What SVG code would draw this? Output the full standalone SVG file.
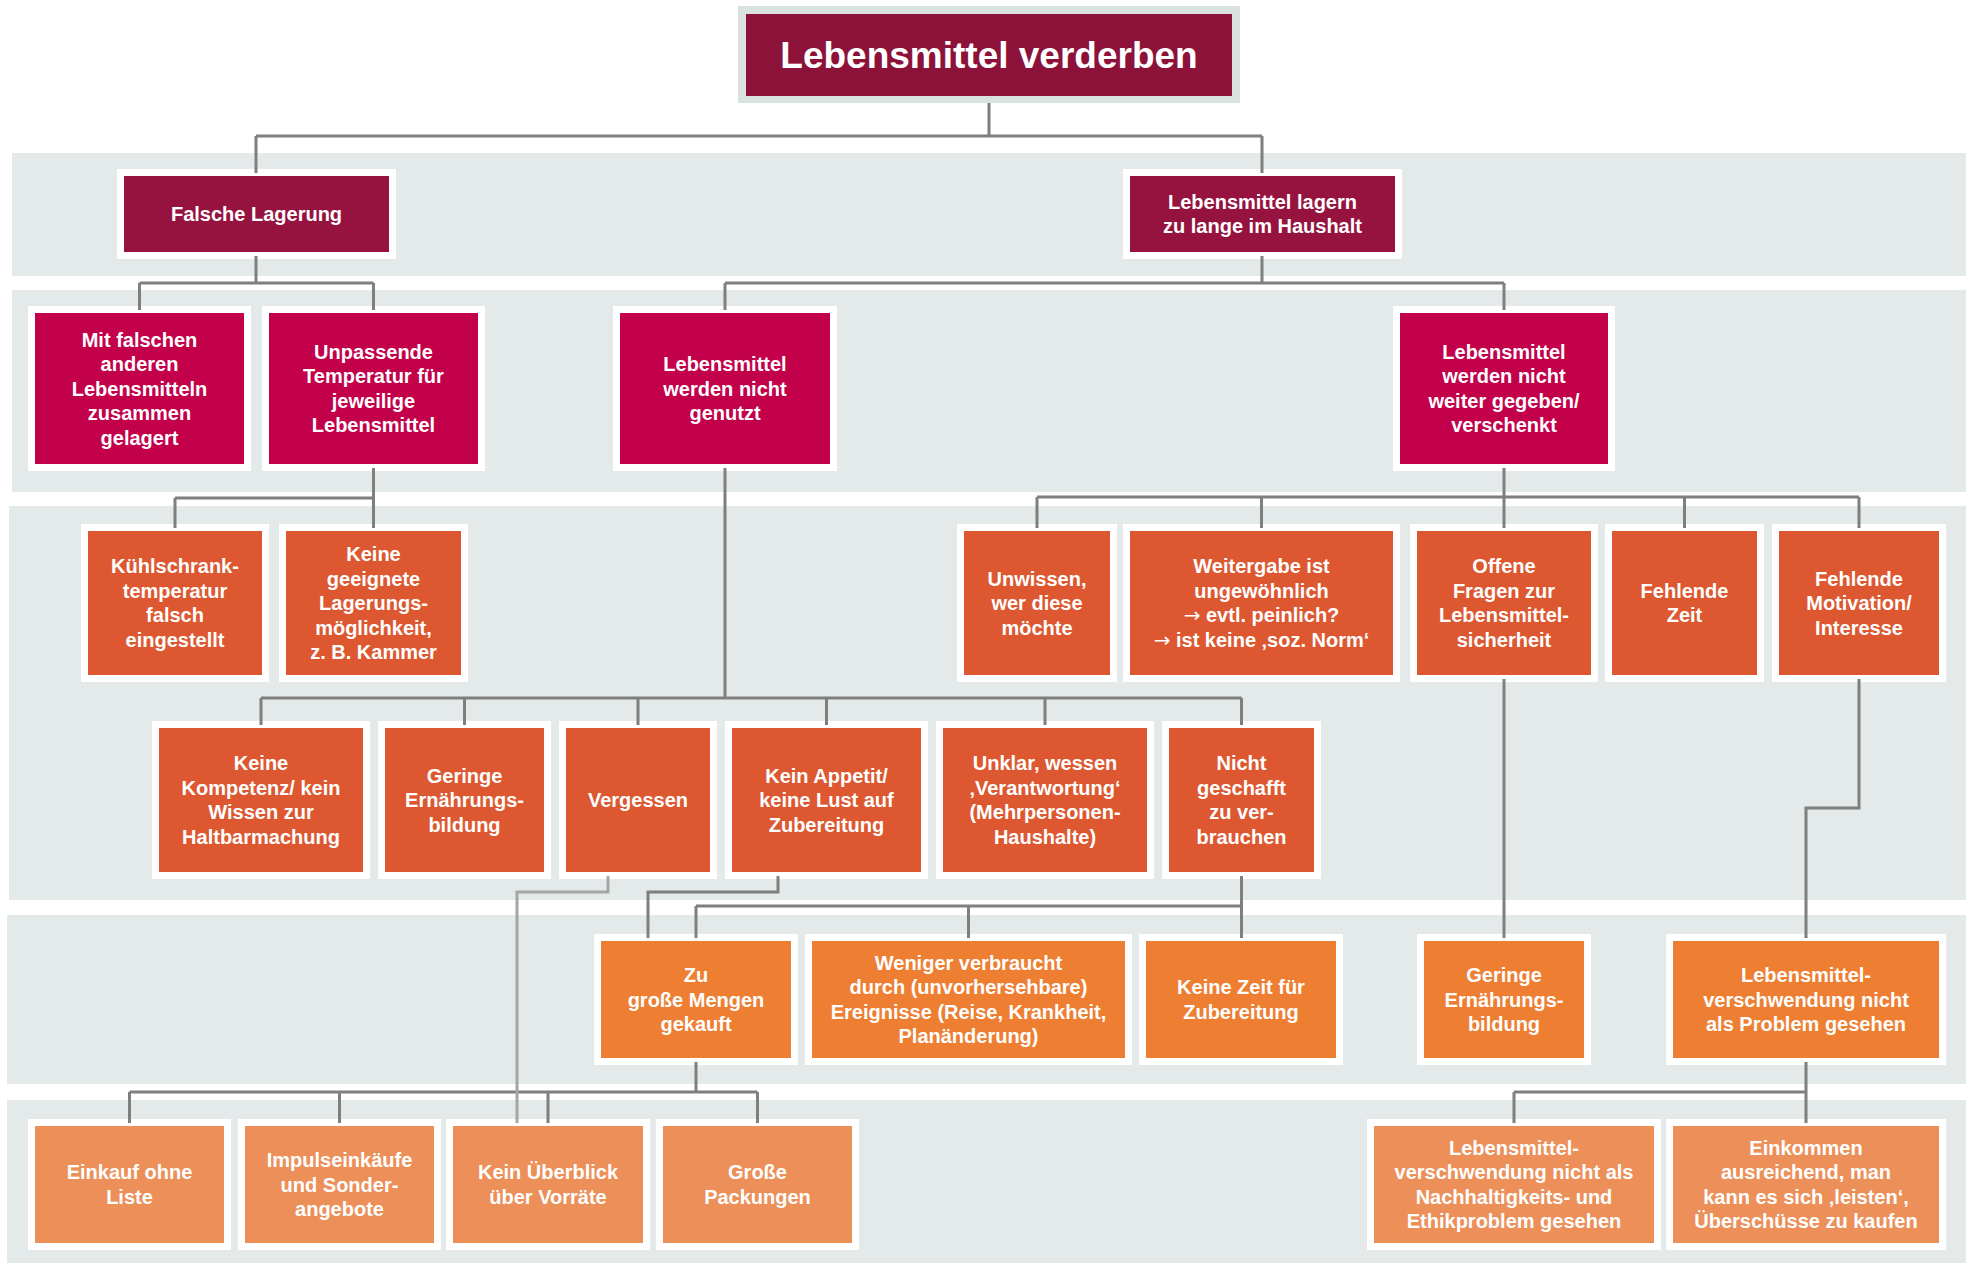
<svg xmlns="http://www.w3.org/2000/svg" width="1968" height="1263" viewBox="0 0 1968 1263">
<style>
.band{fill:#E4EAEA}
.box{stroke:#FFFFFF;stroke-width:7}
.l0{fill:#8C1239}
.l1{fill:#96133F}
.l2{fill:#C3004A}
.l3{fill:#DD5830}
.l5{fill:#EE7E32}
.l6{fill:#EC8F59}
text{font-family:"Liberation Sans",Arial,sans-serif;font-weight:bold;font-size:20px;fill:#FFFFFF;text-anchor:middle}
.ttl{font-size:37px}
.arr{font-family:"DejaVu Sans",sans-serif;font-weight:normal}
.con{fill:none;stroke:#7F7F7F;stroke-width:3}
.con2{fill:none;stroke:#A6A6A6;stroke-width:3}
</style>
<rect width="1968" height="1263" fill="#FFFFFF"/>
<g id="bands">
<rect class="band" x="12" y="153" width="1954" height="123"/>
<rect class="band" x="12" y="290" width="1954" height="202"/>
<rect class="band" x="9" y="506" width="1957" height="394"/>
<rect class="band" x="7" y="915" width="1959" height="169"/>
<rect class="band" x="7" y="1100" width="1959" height="163"/>
</g>
<g id="n-title">
<rect x="738" y="6" width="502" height="97" fill="#D9E1E1"/>
<rect class="l0" x="746" y="14" width="486" height="82"/>
<text class="ttl" x="989" y="68">Lebensmittel verderben</text>
</g>
<g id="n-falsche">
<rect class="box l1" x="120.5" y="172.5" width="272" height="83"/>
<text x="256.5" y="221">Falsche Lagerung</text>
</g>
<g id="n-lagern">
<rect class="box l1" x="1126.5" y="172.5" width="272" height="83"/>
<text x="1262.5" y="208.75"><tspan x="1262.5">Lebensmittel lagern</tspan><tspan x="1262.5" dy="24.5">zu lange im Haushalt</tspan></text>
</g>
<g id="n-mitfalschen">
<rect class="box l2" x="31.5" y="309.5" width="216" height="158"/>
<text x="139.5" y="346.5"><tspan x="139.5">Mit falschen</tspan><tspan x="139.5" dy="24.5">anderen</tspan><tspan x="139.5" dy="24.5">Lebensmitteln</tspan><tspan x="139.5" dy="24.5">zusammen</tspan><tspan x="139.5" dy="24.5">gelagert</tspan></text>
</g>
<g id="n-unpassende">
<rect class="box l2" x="265.5" y="309.5" width="216" height="158"/>
<text x="373.5" y="358.75"><tspan x="373.5">Unpassende</tspan><tspan x="373.5" dy="24.5">Temperatur für</tspan><tspan x="373.5" dy="24.5">jeweilige</tspan><tspan x="373.5" dy="24.5">Lebensmittel</tspan></text>
</g>
<g id="n-genutzt">
<rect class="box l2" x="616.5" y="309.5" width="217" height="158"/>
<text x="725" y="371"><tspan x="725">Lebensmittel</tspan><tspan x="725" dy="24.5">werden nicht</tspan><tspan x="725" dy="24.5">genutzt</tspan></text>
</g>
<g id="n-weitergegeben">
<rect class="box l2" x="1396.5" y="309.5" width="215" height="158"/>
<text x="1504" y="358.75"><tspan x="1504">Lebensmittel</tspan><tspan x="1504" dy="24.5">werden nicht</tspan><tspan x="1504" dy="24.5">weiter gegeben/</tspan><tspan x="1504" dy="24.5">verschenkt</tspan></text>
</g>
<g id="n-kuehlschrank">
<rect class="box l3" x="84.5" y="527.5" width="181" height="151"/>
<text x="175" y="573.25"><tspan x="175">Kühlschrank-</tspan><tspan x="175" dy="24.5">temperatur</tspan><tspan x="175" dy="24.5">falsch</tspan><tspan x="175" dy="24.5">eingestellt</tspan></text>
</g>
<g id="n-keinegeeignete">
<rect class="box l3" x="282.5" y="527.5" width="182" height="151"/>
<text x="373.5" y="561"><tspan x="373.5">Keine</tspan><tspan x="373.5" dy="24.5">geeignete</tspan><tspan x="373.5" dy="24.5">Lagerungs-</tspan><tspan x="373.5" dy="24.5">möglichkeit,</tspan><tspan x="373.5" dy="24.5">z. B. Kammer</tspan></text>
</g>
<g id="n-unwissen">
<rect class="box l3" x="960.5" y="527.5" width="153" height="151"/>
<text x="1037" y="585.5"><tspan x="1037">Unwissen,</tspan><tspan x="1037" dy="24.5">wer diese</tspan><tspan x="1037" dy="24.5">möchte</tspan></text>
</g>
<g id="n-weitergabe">
<rect class="box l3" x="1126.5" y="527.5" width="270" height="151"/>
<text x="1261.5" y="573.25"><tspan x="1261.5">Weitergabe ist</tspan><tspan x="1261.5" dy="24.5">ungewöhnlich</tspan><tspan x="1261.5" dy="24.5"><tspan class="arr">→</tspan> evtl. peinlich?</tspan><tspan x="1261.5" dy="24.5"><tspan class="arr">→</tspan> ist keine ‚soz. Norm‘</tspan></text>
</g>
<g id="n-offene">
<rect class="box l3" x="1413.5" y="527.5" width="181" height="151"/>
<text x="1504" y="573.25"><tspan x="1504">Offene</tspan><tspan x="1504" dy="24.5">Fragen zur</tspan><tspan x="1504" dy="24.5">Lebensmittel-</tspan><tspan x="1504" dy="24.5">sicherheit</tspan></text>
</g>
<g id="n-fehlendezeit">
<rect class="box l3" x="1608.5" y="527.5" width="152" height="151"/>
<text x="1684.5" y="597.75"><tspan x="1684.5">Fehlende</tspan><tspan x="1684.5" dy="24.5">Zeit</tspan></text>
</g>
<g id="n-motivation">
<rect class="box l3" x="1775.5" y="527.5" width="167" height="151"/>
<text x="1859" y="585.5"><tspan x="1859">Fehlende</tspan><tspan x="1859" dy="24.5">Motivation/</tspan><tspan x="1859" dy="24.5">Interesse</tspan></text>
</g>
<g id="n-kompetenz">
<rect class="box l3" x="155.5" y="724.5" width="211" height="151"/>
<text x="261" y="770.25"><tspan x="261">Keine</tspan><tspan x="261" dy="24.5">Kompetenz/ kein</tspan><tspan x="261" dy="24.5">Wissen zur</tspan><tspan x="261" dy="24.5">Haltbarmachung</tspan></text>
</g>
<g id="n-geringe1">
<rect class="box l3" x="381.5" y="724.5" width="166" height="151"/>
<text x="464.5" y="782.5"><tspan x="464.5">Geringe</tspan><tspan x="464.5" dy="24.5">Ernährungs-</tspan><tspan x="464.5" dy="24.5">bildung</tspan></text>
</g>
<g id="n-vergessen">
<rect class="box l3" x="562.5" y="724.5" width="151" height="151"/>
<text x="638" y="807">Vergessen</text>
</g>
<g id="n-appetit">
<rect class="box l3" x="728.5" y="724.5" width="196" height="151"/>
<text x="826.5" y="782.5"><tspan x="826.5">Kein Appetit/</tspan><tspan x="826.5" dy="24.5">keine Lust auf</tspan><tspan x="826.5" dy="24.5">Zubereitung</tspan></text>
</g>
<g id="n-unklar">
<rect class="box l3" x="939.5" y="724.5" width="211" height="151"/>
<text x="1045" y="770.25"><tspan x="1045">Unklar, wessen</tspan><tspan x="1045" dy="24.5">‚Verantwortung‘</tspan><tspan x="1045" dy="24.5">(Mehrpersonen-</tspan><tspan x="1045" dy="24.5">Haushalte)</tspan></text>
</g>
<g id="n-nichtgeschafft">
<rect class="box l3" x="1165.5" y="724.5" width="152" height="151"/>
<text x="1241.5" y="770.25"><tspan x="1241.5">Nicht</tspan><tspan x="1241.5" dy="24.5">geschafft</tspan><tspan x="1241.5" dy="24.5">zu ver-</tspan><tspan x="1241.5" dy="24.5">brauchen</tspan></text>
</g>
<g id="n-zugross">
<rect class="box l5" x="597.5" y="937.5" width="197" height="124"/>
<text x="696" y="982"><tspan x="696">Zu</tspan><tspan x="696" dy="24.5">große Mengen</tspan><tspan x="696" dy="24.5">gekauft</tspan></text>
</g>
<g id="n-weniger">
<rect class="box l5" x="808.5" y="937.5" width="320" height="124"/>
<text x="968.5" y="969.75"><tspan x="968.5">Weniger verbraucht</tspan><tspan x="968.5" dy="24.5">durch (unvorhersehbare)</tspan><tspan x="968.5" dy="24.5">Ereignisse (Reise, Krankheit,</tspan><tspan x="968.5" dy="24.5">Planänderung)</tspan></text>
</g>
<g id="n-keinezeit">
<rect class="box l5" x="1142.5" y="937.5" width="197" height="124"/>
<text x="1241" y="994.25"><tspan x="1241">Keine Zeit für</tspan><tspan x="1241" dy="24.5">Zubereitung</tspan></text>
</g>
<g id="n-geringe2">
<rect class="box l5" x="1420.5" y="937.5" width="167" height="124"/>
<text x="1504" y="982"><tspan x="1504">Geringe</tspan><tspan x="1504" dy="24.5">Ernährungs-</tspan><tspan x="1504" dy="24.5">bildung</tspan></text>
</g>
<g id="n-problem">
<rect class="box l5" x="1669.5" y="937.5" width="273" height="124"/>
<text x="1806" y="982"><tspan x="1806">Lebensmittel-</tspan><tspan x="1806" dy="24.5">verschwendung nicht</tspan><tspan x="1806" dy="24.5">als Problem gesehen</tspan></text>
</g>
<g id="n-einkauf">
<rect class="box l6" x="31.5" y="1122.5" width="196" height="124"/>
<text x="129.5" y="1179.25"><tspan x="129.5">Einkauf ohne</tspan><tspan x="129.5" dy="24.5">Liste</tspan></text>
</g>
<g id="n-impuls">
<rect class="box l6" x="241.5" y="1122.5" width="196" height="124"/>
<text x="339.5" y="1167"><tspan x="339.5">Impulseinkäufe</tspan><tspan x="339.5" dy="24.5">und Sonder-</tspan><tspan x="339.5" dy="24.5">angebote</tspan></text>
</g>
<g id="n-ueberblick">
<rect class="box l6" x="449.5" y="1122.5" width="197" height="124"/>
<text x="548" y="1179.25"><tspan x="548">Kein Überblick</tspan><tspan x="548" dy="24.5">über Vorräte</tspan></text>
</g>
<g id="n-packungen">
<rect class="box l6" x="659.5" y="1122.5" width="196" height="124"/>
<text x="757.5" y="1179.25"><tspan x="757.5">Große</tspan><tspan x="757.5" dy="24.5">Packungen</tspan></text>
</g>
<g id="n-nachhaltigkeit">
<rect class="box l6" x="1370.5" y="1122.5" width="287" height="124"/>
<text x="1514" y="1154.75"><tspan x="1514">Lebensmittel-</tspan><tspan x="1514" dy="24.5">verschwendung nicht als</tspan><tspan x="1514" dy="24.5">Nachhaltigkeits- und</tspan><tspan x="1514" dy="24.5">Ethikproblem gesehen</tspan></text>
</g>
<g id="n-einkommen">
<rect class="box l6" x="1669.5" y="1122.5" width="273" height="124"/>
<text x="1806" y="1154.75"><tspan x="1806">Einkommen</tspan><tspan x="1806" dy="24.5">ausreichend, man</tspan><tspan x="1806" dy="24.5">kann es sich ‚leisten‘,</tspan><tspan x="1806" dy="24.5">Überschüsse zu kaufen</tspan></text>
</g>
<g id="connectors">
<path class="con" d="M989 103V136M256 136H1262M256 136V173M1262 136V173"/>
<path class="con" d="M256 256V283M139.5 283H373.5M139.5 283V310M373.5 283V310"/>
<path class="con" d="M1262 256V283M725 283H1504M725 283V310M1504 283V310"/>
<path class="con" d="M373.5 468V528M175 498H373.5M175 498V528"/>
<path class="con" d="M725 468V698M261 698H1241.5M261 698V725M464.5 698V725M638 698V725M826.5 698V725M1045 698V725M1241.5 698V725"/>
<path class="con" d="M1504 468V528M1037 497H1859M1037 497V528M1261.5 497V528M1684.5 497V528M1859 497V528"/>
<path class="con" d="M778 876V892H648V938"/>
<path class="con" d="M1241.5 876V938M696 906H1241.5M696 906V938M968.5 906V938"/>
<path class="con" d="M1504 679V938"/>
<path class="con" d="M1859 679V808H1806V938"/>
<path class="con" d="M696 1062V1092M129.5 1092H757.5M129.5 1092V1123M339.5 1092V1123M548 1092V1123M757.5 1092V1123"/>
<path class="con" d="M1806 1062V1123M1514 1092H1806M1514 1092V1123"/>
<path class="con2" d="M608 876V892H517V1123"/>
</g>
</svg>
